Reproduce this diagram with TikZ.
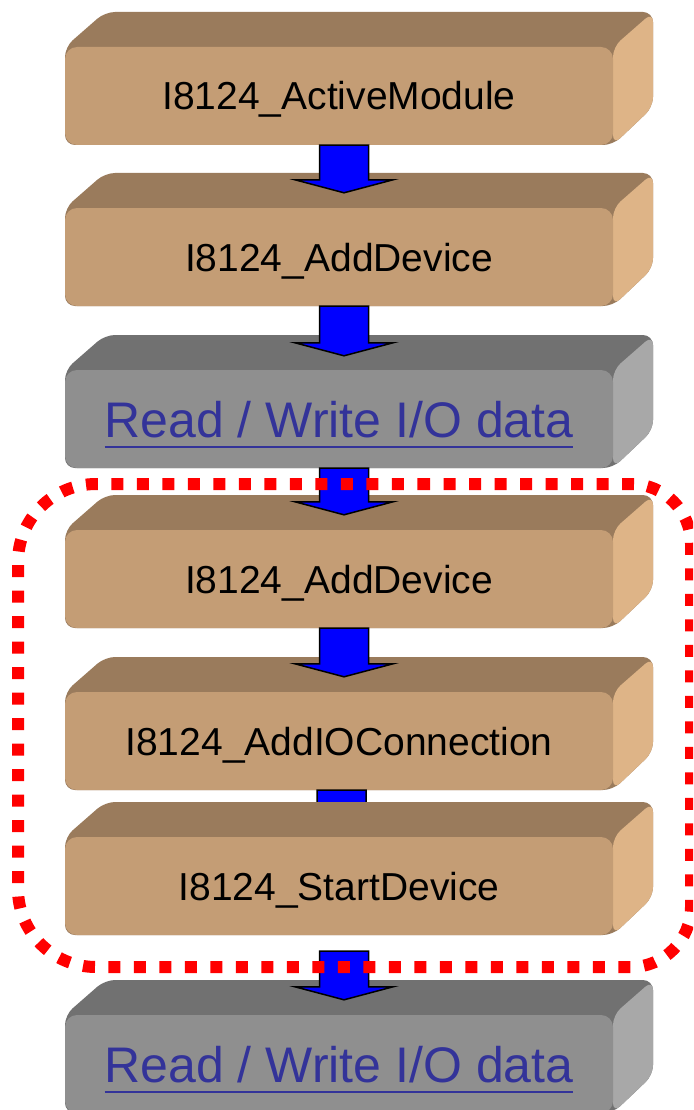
\documentclass[tikz,border=0pt]{standalone}
\usepackage{fontspec}
\setmainfont{Liberation Sans}
\usetikzlibrary{calc}
\definecolor{tanfront}{HTML}{C49D75}
\definecolor{tantop}{HTML}{9A7B5C}
\definecolor{tanside}{HTML}{DEB487}
\definecolor{grayfront}{HTML}{8F8F8F}
\definecolor{graytop}{HTML}{717171}
\definecolor{grayside}{HTML}{A8A8A8}
\definecolor{linkblue}{HTML}{333399}
\definecolor{dotred}{HTML}{FF0000}
\definecolor{arrowblue}{HTML}{0000FF}
\newsavebox\ulbox
\newcommand\ulink[1]{\sbox\ulbox{#1}\makebox[0pt][l]{\raisebox{0pt}[0pt][0pt]{\rule[-11pt]{\wd\ulbox}{2pt}}}\usebox\ulbox}
% #1 name, #2 top y, #3 top colour, #4 side colour, #5 front style, #6 text
\newcommand\cubebox[6]{%
  \fill[#3, rounded corners=10pt] (65,#2+35) -- (105,#2) -- (653,#2) -- (653,#2+95) -- (613,#2+133) -- (65,#2+133) -- cycle;
  \fill[#4, rounded corners=10pt] (613,#2+35) -- (653,#2) -- (653,#2+95) -- (613,#2+133) -- cycle;
  \node[#5] (#1) at (339,#2+84) {#6};
}
\newcommand\blockarrow[2]{%
  \draw[arr] let \p1=(#1), \p2=(#2) in
    (\x1-24.5pt,\y1) -- (\x1+24.5pt,\y1) -- (\x1+24.5pt,\y2+13pt) -- (\x1+49pt,\y2+13pt)
    -- (\x1,\y2) -- (\x1-49pt,\y2+13pt) -- (\x1-24.5pt,\y2+13pt) -- cycle;
}
\tikzset{
  frontface/.style={rounded corners=12pt, minimum width=548pt, minimum height=98pt, inner sep=0pt},
  tanface/.style={frontface, fill=tanfront, text=black, font=\fontsize{39}{39}\selectfont, text height=28pt, text depth=0pt},
  grayface/.style={frontface, fill=grayfront, text=linkblue, font=\fontsize{50}{50}\selectfont, text height=36pt, text depth=0pt},
  arr/.style={fill=arrowblue, draw=black, line width=1.5pt, line join=miter},
  redframe/.style={draw=dotred, line width=12pt, dash pattern=on 12pt off 13.5pt}
}
\begin{document}
\begin{tikzpicture}[x=1pt,y=-1pt]
\clip (0,0) rectangle (693,1110);
\fill[white] (0,0) rectangle (693,1110);
\cubebox{b1}{12}{tantop}{tanside}{tanface}{I8124\_ActiveModule}
\cubebox{b2}{173}{tantop}{tanside}{tanface}{I8124\_AddDevice}
\cubebox{b3}{335}{graytop}{grayside}{grayface}{\ulink{Read / Write I/O data}}
\cubebox{b4}{495}{tantop}{tanside}{tanface}{I8124\_AddDevice}
\cubebox{b5}{657}{tantop}{tanside}{tanface}{I8124\_AddIOConnection}
\coordinate (a5s) at ($(b5.south)+(2.5,0)$);
\coordinate (a5e) at ($(b5.south)+(2.5,30)$);
\blockarrow{a5s}{a5e}
\cubebox{b6}{802}{tantop}{tanside}{tanface}{I8124\_StartDevice}
\cubebox{b7}{980}{graytop}{grayside}{grayface}{\ulink{Read / Write I/O data}}
\coordinate (a1s) at ($(b1.south)+(5,0)$);
\coordinate (a1e) at ($(b2.north)+(5,-15)$);
\coordinate (a2s) at ($(b2.south)+(5,0)$);
\coordinate (a2e) at ($(b3.north)+(5,-14)$);
\coordinate (a3s) at ($(b3.south)+(5,0)$);
\coordinate (a3e) at ($(b4.north)+(5,-15)$);
\coordinate (a4s) at ($(b4.south)+(5,0)$);
\coordinate (a4e) at ($(b5.north)+(5,-15)$);
\coordinate (a6s) at ($(b6.south)+(5,16)$);
\coordinate (a6e) at ($(b7.north)+(5,-15)$);
\blockarrow{a1s}{a1e}
\blockarrow{a2s}{a2e}
\blockarrow{a3s}{a3e}
\blockarrow{a4s}{a4e}
\blockarrow{a6s}{a6e}
\draw[redframe] (340,484) [rounded corners=60pt] -- (691,484) -- (691,967) [rounded corners=78pt] -- (18,967) -- (18,484) -- cycle;
\end{tikzpicture}
\end{document}
